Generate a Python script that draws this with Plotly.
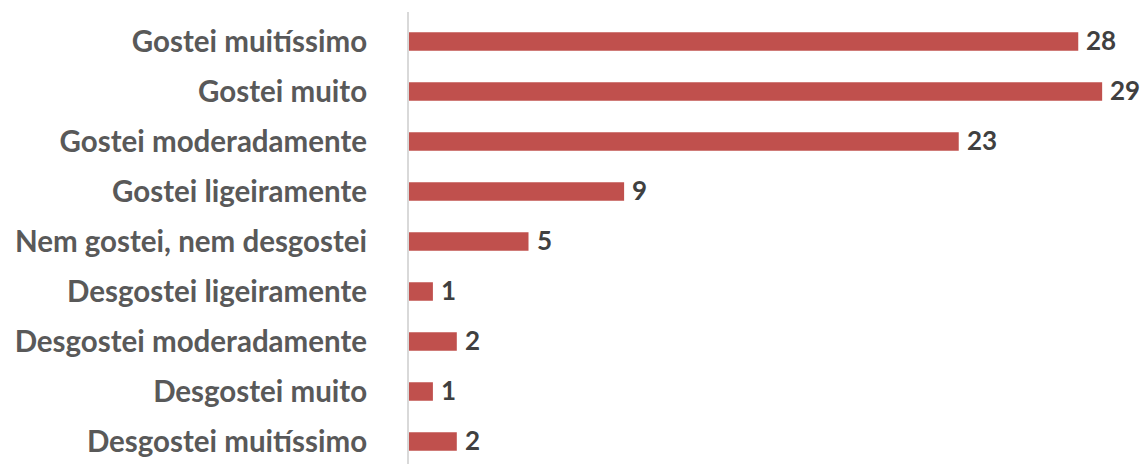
import plotly.graph_objects as go

categories = ["Gostei muitíssimo", "Gostei muito", "Gostei moderadamente",
              "Gostei ligeiramente", "Nem gostei, nem desgostei",
              "Desgostei ligeiramente", "Desgostei moderadamente",
              "Desgostei muito", "Desgostei muitíssimo"]
values = [28, 29, 23, 9, 5, 1, 2, 1, 2]

fig = go.Figure()
fig.add_trace(go.Bar(
    x=values, y=categories, orientation="h",
    marker=dict(color="#C0504D", line=dict(width=0)),
    width=0.37, hoverinfo="skip",
))
for v, c in zip(values, categories):
    fig.add_annotation(x=v, y=c, text="<b>%d</b>" % v, showarrow=False,
                       xanchor="left", yanchor="middle", xshift=6, yshift=2,
                       font=dict(family="Lato", size=26, color="#404040"))

fig.update_layout(
    width=1144, height=464,
    margin=dict(l=409, r=6, t=12, b=0),
    plot_bgcolor="white", paper_bgcolor="white",
    showlegend=False,
    xaxis=dict(range=[0, 30.5], visible=False, showgrid=False, zeroline=False),
    yaxis=dict(
        type="category", categoryorder="array", categoryarray=categories,
        range=[8.45, -0.59],
        showline=True, linecolor="#D9D9D9", linewidth=2,
        ticks="", ticklabelstandoff=34, showgrid=False, zeroline=False,
        tickfont=dict(family="Lato", size=29.5, color="#595959", weight="bold"),
    ),
)
fig.write_html("out.html")
